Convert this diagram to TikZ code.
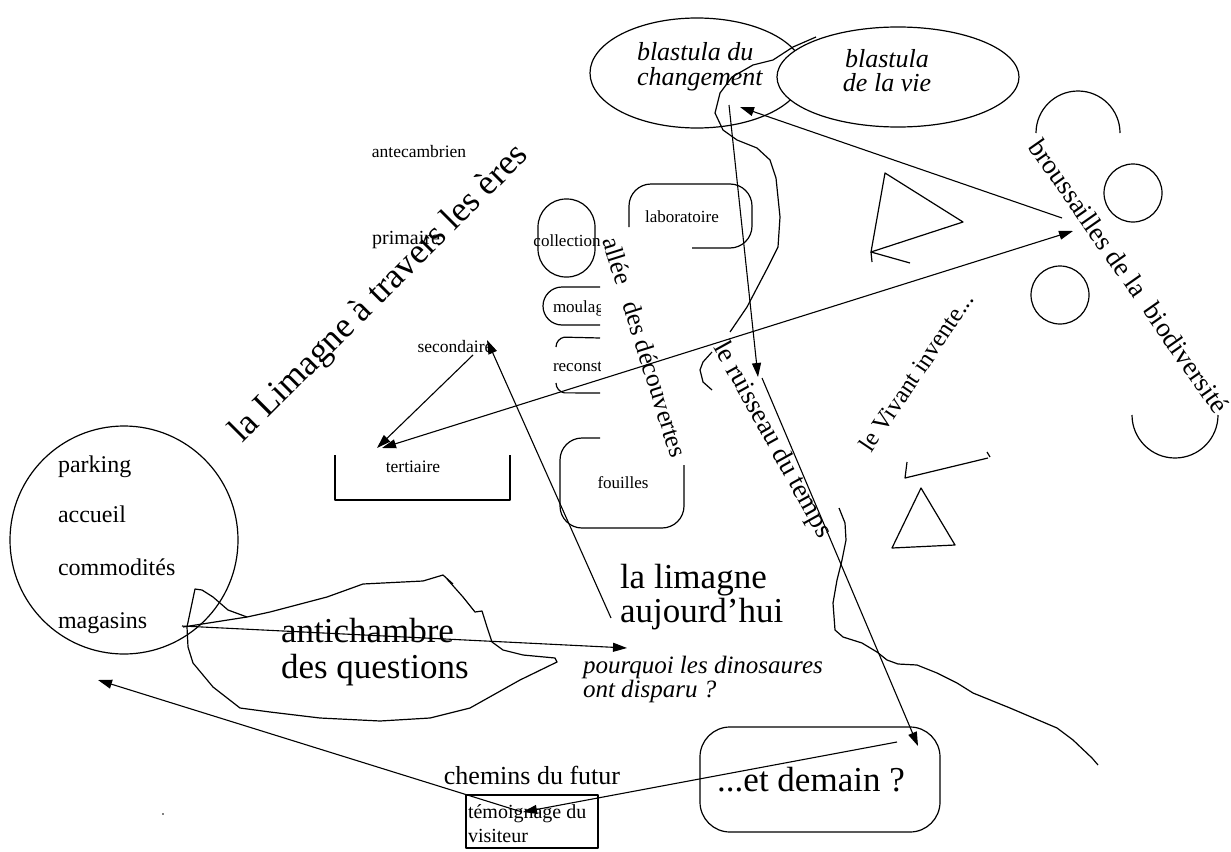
\documentclass[tikz,border=0pt]{standalone}
\usepackage{fontspec}
\setmainfont{Liberation Serif}
\usetikzlibrary{arrows.meta}
\newcommand\fsz[2]{\fontsize{#1}{#2}\selectfont}
\begin{document}
\begin{tikzpicture}[x=1pt,y=-1pt,line width=1.2pt,line join=round,
  link/.style={line width=1.1pt,-{Triangle[length=14pt,width=9pt]}},
  duallink/.style={line width=1.1pt,{Triangle[length=14pt,width=9pt]}-{Triangle[length=14pt,width=9pt]}},
  txt/.style={inner sep=0pt,outer sep=0pt},
  small/.style={txt,font=\fsz{17.5}{20}},
  mid/.style={txt,font=\fsz{24}{28}},
  big/.style={txt,font=\fsz{35}{37}},
  ital/.style={txt,font=\fsz{26}{28}\itshape},
  wordart/.style={txt,font=\fsz{26}{28}},
]
\useasboundingbox (0,0) rectangle (1231,851);

% --- blastulas ---
\draw (697,73) ellipse [x radius=107, y radius=55];
\node[ital,anchor=base west] (bc1) at (637,61) {blastula du};
\node[ital,anchor=base west] (bc2) at (637,85) {changement};
\draw[fill=white] (898,77) ellipse [x radius=121, y radius=50];
\node[ital,anchor=base] (bv1) at (887,67) {blastula};
\node[ital,anchor=base] (bv2) at (887,92) {de la vie};

% --- the river of time (freehand strokes) ---
\draw (816,37) -- (793,47) -- (773,60) -- (753,65) -- (732,77) -- (720,93) -- (715,113)
  -- (723,130) -- (737,140) -- (757,148) -- (770,160) -- (776,178) -- (780,217)
  -- (778,247) -- (768,267) -- (747,307) -- (730,332);
\draw (712,352) -- (703,362) -- (700,370) -- (703,382) -- (712,390);
\draw (839,508) -- (845,523) -- (846,540) -- (842,560) -- (837,580) -- (833,603)
  -- (835,630) -- (843,637) -- (862,643) -- (877,652) -- (887,660) -- (898,664)
  -- (917,665) -- (937,673) -- (957,683) -- (973,693) -- (1010,708) -- (1057,728)
  -- (1073,740) -- (1092,758) -- (1098,765);

% --- eras ---
\node[small] (antec) at (419,152) {antecambrien};
\node[txt,font=\fsz{20}{22}] (prim) at (406,240) {primaire};
\node[small] (second) at (455,347) {secondaire};
\node[small] (tert) at (413,467) {tertiaire};
\draw (335,455) -- (335,500) -- (510,500) -- (510,455);
\node[txt,font=\fsz{35.5}{38},rotate=45] (eres) at (380,294) {la Limagne à travers les ères};

% --- alley of discoveries ---
\draw[rounded corners=28pt] (538,199) rectangle (595,277);
\node[txt,font=\fsz{17}{20}] (collec) at (567,241) {collection};
\draw (629,227) -- (629,206) arc[start angle=180,end angle=270,radius=22] -- (730,184)
  arc[start angle=270,end angle=360,radius=22] -- (752,226)
  arc[start angle=0,end angle=90,radius=22] -- (692,248);
\node[txt,font=\fsz{17}{20}] (labo) at (682,217) {laboratoire};
\begin{scope}
  \clip (520,270) rectangle (600,400);
  \draw (600,287) -- (562,287) arc[start angle=270,end angle=90,radius=19] -- (600,325);
  \node[txt,font=\fsz{17}{20},anchor=base west] (moul) at (553,312) {moulage};
  \node[txt,font=\fsz{17}{20},anchor=base west] (recon) at (553,371) {reconstitution};
\end{scope}
\draw (556,347) arc[start angle=180,end angle=260,radius=10] -- (600,338);
\draw (556,383) arc[start angle=180,end angle=100,radius=10] -- (600,393);
\draw (600,438) -- (582,438) arc[start angle=270,end angle=180,radius=22] -- (560,506)
  arc[start angle=180,end angle=90,radius=22] -- (662,528)
  arc[start angle=90,end angle=0,radius=22] -- (684,465);
\node[txt,font=\fsz{17}{20}] (fouil) at (623,483) {fouilles};
\node[wordart,font=\fsz{25.5}{28},rotate=-72.5] (allee) at (645,347) {allée\ \ \ des découvertes};

% --- the living ---
\node[wordart,font=\fsz{27}{30},rotate=-61] (ruiss) at (772,440) {le ruisseau du temps};
\node[txt,font=\fsz{24.5}{28},rotate=56] (vivant) at (916,372) {le Vivant invente...};
\draw (885,173) -- (963,222) -- (871,252) -- cycle;
\draw (871,252) -- (910,263);
\draw (871,252) -- (872,262);
\draw (921,488) -- (955,545) -- (892,548) -- cycle;
\draw (907,462) -- (905,478) -- (988,458);
\draw (987,452) -- (990,457);
\draw (1036,133) arc[start angle=180,end angle=360,radius=42];
\draw (1133,193) circle[radius=29];
\draw (1060,295) circle[radius=29];
\draw (1132,415) arc[start angle=180,end angle=0,radius=43];
\node[wordart,font=\fsz{27}{30},rotate=-55] (brous) at (1129,276) {broussailles de la\ \ biodiversité};

% --- entrance ---
\draw (124,540) circle[radius=114];
\node[mid,anchor=base west] (park) at (58,472) {parking};
\node[mid,anchor=base west] (accu) at (58,522) {accueil};
\node[mid,anchor=base west] (comm) at (58,575) {commodités};
\node[mid,anchor=base west] (maga) at (58,628) {magasins};

% --- antechamber ---
\draw (183,627) -- (247,617) -- (270,612) -- (327,597) -- (363,584) -- (423,581) -- (443,575)
  -- (453,584);
\draw (447,579) -- (463,597) -- (475,612) -- (482,611) -- (487,627) -- (492,642) -- (503,650)
  -- (523,655) -- (555,658) -- (557,662) -- (520,680) -- (470,708) -- (430,718)
  -- (380,721) -- (320,718) -- (270,712) -- (240,708) -- (213,687) -- (193,663)
  -- (188,647) -- (187,627) -- (195,589) -- (202,590) -- (213,597) -- (228,610) -- (247,617);
\node[big,anchor=base west] (anti1) at (281,642) {antichambre};
\node[big,anchor=base west] (anti2) at (281,678) {des questions};

\node[big,anchor=base west] (lim1) at (620,588) {la limagne};
\node[big,anchor=base west] (lim2) at (620,622) {aujourd’hui};
\node[txt,font=\fsz{25}{25}\itshape,anchor=base west] (pq1) at (583,673) {pourquoi les dinosaures};
\node[txt,font=\fsz{25}{25}\itshape,anchor=base west] (pq2) at (583,697) {ont disparu ?};

% --- future ---
\node[txt,font=\fsz{26}{28}] (chem) at (532,775) {chemins du futur};
\draw (466,795) rectangle (598,848);
\node[txt,font=\fsz{20}{22},anchor=base west] (temo1) at (468,818) {témoignage du};
\node[txt,font=\fsz{20}{22},anchor=base west] (temo2) at (468,842) {visiteur};
\draw[rounded corners=30pt] (700,727) rectangle (940,832);
\node[big] (demain) at (811,780) {...et demain ?};
\fill (163,814) circle[radius=0.8];

% --- connector ends ---
\coordinate (brousOut) at (1062,218);
\coordinate (brousIn) at (1073,231);
\coordinate (blastIn) at (740,107);
\coordinate (blastOut) at (729,105);
\coordinate (ruissIn) at (758,377);
\coordinate (ruissOut) at (762,378);
\coordinate (demainIn) at (918,746);
\coordinate (demainOut) at (897,742);
\coordinate (temoIn) at (523,812);
\coordinate (temoOut) at (522,812);
\coordinate (accueilIn) at (98,680);
\coordinate (magaOut) at (182,626);
\coordinate (pqIn) at (627,648);
\coordinate (limOut) at (611,618);
\coordinate (secIn) at (487,340);
\coordinate (secOut) at (473,355);
\coordinate (tertIn) at (377,448);
\coordinate (tertEnd) at (382,448);

\draw[link] (brousOut) -- (blastIn);
\draw[link] (blastOut) -- (ruissIn);
\draw[link] (ruissOut) -- (demainIn);
\draw[link] (demainOut) -- (temoIn);
\draw[link] (temoOut) -- (accueilIn);
\draw[link] (magaOut) -- (pqIn);
\draw[link] (limOut) -- (secIn);
\draw[link] (secOut) -- (tertIn);
\draw[duallink] (tertEnd) -- (brousIn);
\end{tikzpicture}
\end{document}
